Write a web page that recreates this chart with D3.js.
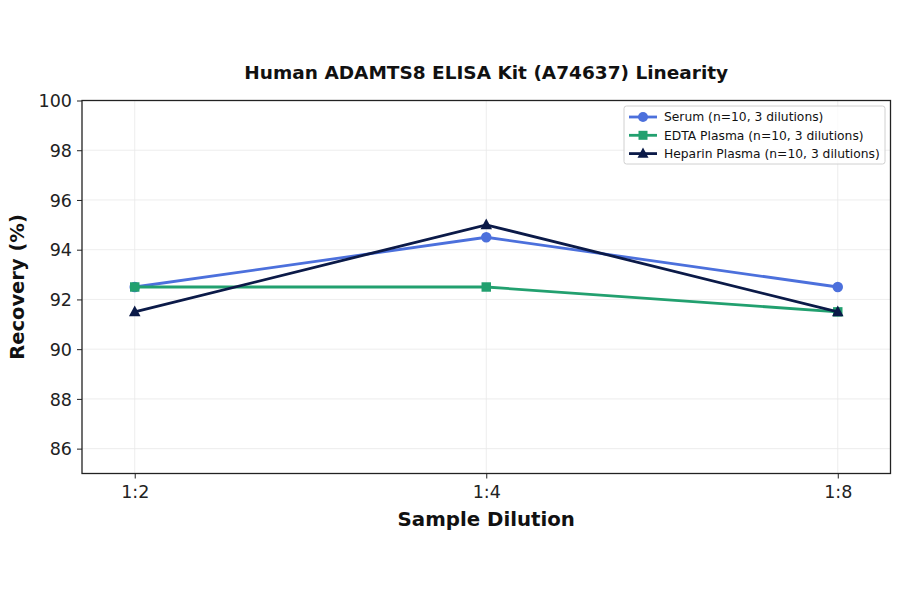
<!DOCTYPE html>
<html><head><meta charset="utf-8">
<script src="https://cdn.jsdelivr.net/npm/d3@7"></script>
<style>body{margin:0;background:#fff}svg{font-family:"DejaVu Sans",sans-serif}</style>
</head><body>
<svg id="c" width="900" height="594"></svg>
<script>
const categories = ["1:2", "1:4", "1:8"];
const serum = [92.5, 94.5, 92.5];
const edta = [92.5, 92.5, 91.5];
const heparin = [91.5, 95.0, 91.5];
const yTicks = [86, 88, 90, 92, 94, 96, 98, 100];
const seriesNames = ["Serum (n=10, 3 dilutions)", "EDTA Plasma (n=10, 3 dilutions)", "Heparin Plasma (n=10, 3 dilutions)"];

const series = [
  {name: seriesNames[0], values: serum, color: "#4c70dc", marker: "circle"},
  {name: seriesNames[1], values: edta, color: "#22a06f", marker: "square"},
  {name: seriesNames[2], values: heparin, color: "#0b1a48", marker: "triangle"}
];

const svg = d3.select("#c");
const L = 82, R = 890.5, T = 100.5, B = 473.5;
const x = d3.scaleLinear().domain([-0.15, 2.15]).range([L, R]);
const y = d3.scaleLinear().domain([85, 100]).range([B, T]);

// grid
const g = svg.append("g");
g.selectAll(".gx").data(categories).enter().append("line")
  .attr("x1", (d,i)=>x(i)).attr("x2", (d,i)=>x(i)).attr("y1", T).attr("y2", B)
  .attr("stroke", "#e8e8e8").attr("stroke-width", 0.8);
g.selectAll(".gy").data(yTicks).enter().append("line")
  .attr("x1", L).attr("x2", R).attr("y1", d=>y(d)).attr("y2", d=>y(d))
  .attr("stroke", "#e8e8e8").attr("stroke-width", 0.8);

// axes
const xAxis = d3.axisBottom(x).tickValues([0,1,2]).tickFormat(i=>categories[i]).tickSizeOuter(0).tickSize(5).tickPadding(5);
const yAxis = d3.axisLeft(y).tickValues(yTicks).tickSizeOuter(0).tickSize(5).tickPadding(5);
const gx = svg.append("g").attr("transform", `translate(0,${B})`).call(xAxis);
const gy = svg.append("g").attr("transform", `translate(${L},0)`).call(yAxis);
[gx, gy].forEach(a => {
  a.select(".domain").remove();
  a.selectAll("text").attr("font-size", 17.5).attr("fill", "#222").attr("font-family", "DejaVu Sans");
  a.selectAll("line").attr("stroke", "#222").attr("stroke-width", 1);
});
gy.selectAll("text").attr("dy", "0.35em");
gx.selectAll("text").attr("dy", "0.85em");

// lines + markers per series
const line = d3.line().x((d,i)=>x(i)).y(d=>y(d));
function drawMarker(sel, type, cx, cy, color, size) {
  if (type === "circle") sel.append("circle").attr("cx", cx).attr("cy", cy).attr("r", size*0.5).attr("fill", color);
  else if (type === "square") sel.append("rect").attr("x", cx-size*0.45).attr("y", cy-size*0.45).attr("width", size*0.9).attr("height", size*0.9).attr("fill", color);
  else sel.append("path").attr("d", `M${cx},${cy-size*0.6}L${cx+size*0.55},${cy+size*0.42}L${cx-size*0.55},${cy+size*0.42}Z`).attr("fill", color);
}
series.forEach(s => {
  svg.append("path").datum(s.values).attr("d", line)
    .attr("fill", "none").attr("stroke", s.color).attr("stroke-width", 2.8);
  s.values.forEach((v,i) => drawMarker(svg, s.marker, x(i), y(v), s.color, 10.5));
});

// frame
svg.append("rect").attr("x", L).attr("y", T).attr("width", R-L).attr("height", B-T)
  .attr("fill", "none").attr("stroke", "#222").attr("stroke-width", 1.3);

// title & labels
svg.append("text").attr("x", (L+R)/2).attr("y", 79).attr("text-anchor", "middle")
  .attr("font-size", 18.5).attr("font-weight", "bold").attr("fill", "#111").text("Human ADAMTS8 ELISA Kit (A74637) Linearity");
svg.append("text").attr("x", (L+R)/2).attr("y", 526).attr("text-anchor", "middle")
  .attr("font-size", 19.8).attr("font-weight", "bold").attr("fill", "#111").text("Sample Dilution");
svg.append("text").attr("transform", `translate(24,${(T+B)/2}) rotate(-90)`).attr("text-anchor", "middle")
  .attr("font-size", 19.5).attr("font-weight", "bold").attr("fill", "#111").text("Recovery (%)");

// legend
const lg = svg.append("g");
lg.append("rect").attr("x", 624).attr("y", 106).attr("width", 261).attr("height", 58).attr("rx", 2.5)
  .attr("fill", "#fff").attr("fill-opacity", 0.8).attr("stroke", "#d0d0d0").attr("stroke-width", 1);
series.forEach((s,i) => {
  const yy = 117 + i*18.3;
  lg.append("line").attr("x1", 629).attr("x2", 657).attr("y1", yy).attr("y2", yy).attr("stroke", s.color).attr("stroke-width", 2.8);
  drawMarker(lg, s.marker, 643, yy, s.color, 10);
  lg.append("text").attr("x", 664).attr("y", yy).attr("dy", "0.35em").attr("font-size", 12.3).attr("fill", "#111").text(s.name);
});
</script>
</body></html>
